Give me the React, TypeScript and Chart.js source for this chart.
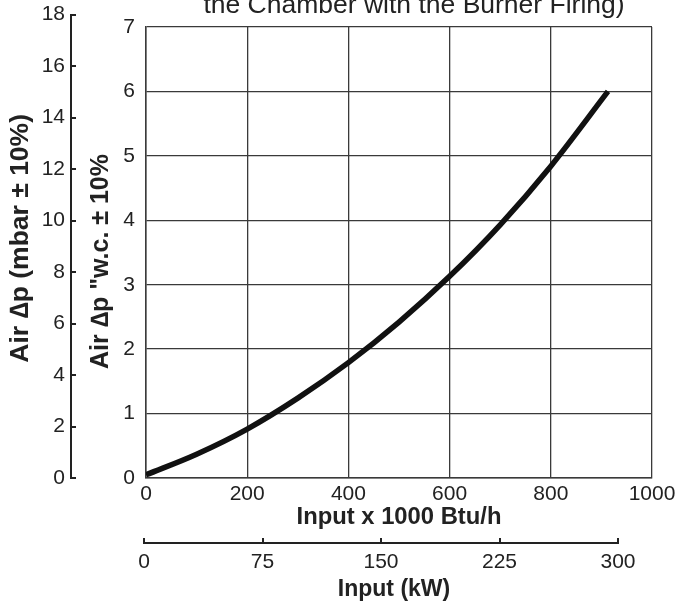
import React, { useEffect, useRef } from 'react';
import { Chart, registerables } from 'chart.js';

Chart.register(...registerables);

// ---- data ----
const inputBtu = [0, 100, 200, 300, 400, 500, 600, 700, 800, 913];
const airDpWc = [0.05, 0.37, 0.76, 1.24, 1.79, 2.42, 3.13, 3.93, 4.84, 6.0];

const btuTicks = [0, 200, 400, 600, 800, 1000];
const wcTicks = [0, 1, 2, 3, 4, 5, 6, 7];
const mbarTicks = [0, 2, 4, 6, 8, 10, 12, 14, 16, 18];
const kwTicks = [0, 75, 150, 225, 300];

const titleText = 'the Chamber with the Burner Firing)';
const xTitle = 'Input x 1000 Btu/h';
const kwTitle = 'Input (kW)';
const wcTitle = 'Air \u2206p "w.c. \u00b1 10%';
const mbarTitle = 'Air \u2206p (mbar \u00b1 10%)';

const FAMILY = "'Liberation Sans', Arial, Helvetica, sans-serif";
const TEXT = '#222';
const GRID = '#3a3a3a';
const AX = '#222';

const tickFont = { family: FAMILY, size: 21 };
const plain = (v: any) => String(v);

const step = (a: number[]) => a[1] - a[0];

// shift only the drawn title of a scale (ticks stay where the scale puts them)
function shiftTitle(scale: any, dx: number, dy: number) {
  if (!scale || scale.__titleShifted) return;
  const orig = scale.drawTitle.bind(scale);
  scale.drawTitle = function () {
    this.left += dx; this.right += dx; this.top += dy; this.bottom += dy;
    try { orig(); } finally {
      this.left -= dx; this.right -= dx; this.top -= dy; this.bottom -= dy;
    }
  };
  scale.__titleShifted = true;
}

const adjustPlugin = {
  id: 'adjustOuterAxes',
  afterLayout(chart: any) {
    const area = chart.chartArea;
    const m = chart.scales.mbar;
    if (m) {
      m.top = area.top - 12.3;
      m.height = m.bottom - m.top;
      m.configure();
    }
    const k = chart.scales.kw;
    if (k) {
      k.left = area.left - 2;
      k.right = area.left + 472;
      k.width = k.right - k.left;
      k.configure();
    }
    shiftTitle(m, 0, -8);
    shiftTitle(chart.scales.y, 0, 9);
    shiftTitle(k, 13, 0);
    const tb = chart.titleBlock;
    if (tb) {
      tb.left += 88;
      tb.right += 88;
    }
  },
};

export default function App() {
  const ref = useRef<HTMLCanvasElement>(null);

  useEffect(() => {
    const canvas = ref.current;
    if (!canvas) return;
    const chart = new Chart(canvas, {
      type: 'line',
      data: {
        datasets: [
          {
            data: inputBtu.map((x, i) => ({ x, y: airDpWc[i] })),
            borderColor: '#111',
            borderWidth: 5.5,
            pointRadius: 0,
            fill: false,
            cubicInterpolationMode: 'monotone',
            borderCapStyle: 'butt',
            borderJoinStyle: 'round',
            xAxisID: 'x',
            yAxisID: 'y',
          } as any,
        ],
      },
      options: {
        responsive: false,
        animation: false,
        devicePixelRatio: 1,
        layout: { padding: { left: 0, right: 24, top: 0, bottom: 0 } },
        plugins: {
          legend: { display: false },
          tooltip: { enabled: false },
          title: {
            display: true,
            text: titleText,
            color: TEXT,
            font: { family: FAMILY, size: 26.5, weight: 'normal' },
            padding: { top: -9.9, bottom: 5.1 },
          },
        },
        scales: {
          x: {
            type: 'linear',
            position: 'bottom',
            weight: 0,
            min: btuTicks[0],
            max: btuTicks[btuTicks.length - 1],
            ticks: { stepSize: step(btuTicks), autoSkip: false, maxRotation: 0, padding: 4, font: tickFont, color: TEXT, callback: plain },
            grid: { color: GRID, lineWidth: 1.3, drawTicks: false },
            border: { color: GRID, width: 1.5 },
            title: { display: true, text: xTitle, color: TEXT, font: { family: FAMILY, size: 23.8, weight: 'bold' }, padding: { top: 0, bottom: 11.2 } },
            afterFit: (s: any) => { s.height = 65; s.paddingLeft = 0; s.paddingRight = 0; },
          },
          kw: {
            type: 'linear',
            position: 'bottom',
            weight: 10,
            min: kwTicks[0],
            max: kwTicks[kwTicks.length - 1],
            ticks: { stepSize: step(kwTicks), autoSkip: false, maxRotation: 0, padding: 11.5, font: tickFont, color: TEXT, callback: plain },
            grid: { drawOnChartArea: false, drawTicks: true, tickLength: -5, color: AX, lineWidth: 2 },
            border: { color: AX, width: 2 },
            title: { display: true, text: kwTitle, color: TEXT, font: { family: FAMILY, size: 23, weight: 'bold' }, padding: { top: 0, bottom: 2.2 } },
            afterFit: (s: any) => { s.height = 63; s.paddingLeft = 0; s.paddingRight = 0; },
          },
          y: {
            type: 'linear',
            position: 'left',
            weight: 0,
            min: wcTicks[0],
            max: wcTicks[wcTicks.length - 1],
            ticks: { stepSize: step(wcTicks), autoSkip: false, padding: 11, font: tickFont, color: TEXT, callback: plain },
            grid: { color: GRID, lineWidth: 1.3, drawTicks: false },
            border: { color: GRID, width: 1.5 },
            title: { display: true, text: wcTitle, color: TEXT, font: { family: FAMILY, size: 25, weight: 'bold' }, padding: { top: 15, bottom: 0 } },
            afterFit: (s: any) => { s.width = 75; },
          },
          mbar: {
            type: 'linear',
            position: 'left',
            weight: 10,
            min: mbarTicks[0],
            max: mbarTicks[mbarTicks.length - 1],
            ticks: { stepSize: step(mbarTicks), autoSkip: false, padding: 11, font: tickFont, color: TEXT, callback: plain },
            grid: { drawOnChartArea: false, drawTicks: true, tickLength: -5, color: AX, lineWidth: 2 },
            border: { color: AX, width: 2 },
            title: { display: true, text: mbarTitle, color: TEXT, font: { family: FAMILY, size: 26.5, weight: 'bold' }, padding: { top: 5.1, bottom: 0 } },
            afterFit: (s: any) => { s.width = 71; },
          },
        },
      } as any,
      plugins: [adjustPlugin],
    });
    return () => chart.destroy();
  }, []);

  return (
    <canvas
      ref={ref}
      width={676}
      height={606}
      style={{ position: 'absolute', left: 0, top: 0, width: 676, height: 606, display: 'block' }}
    />
  );
}
